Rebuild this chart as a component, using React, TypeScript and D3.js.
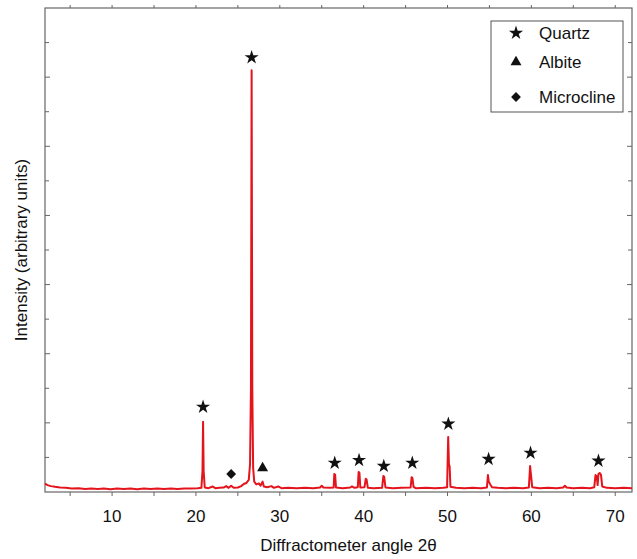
import * as d3 from "d3";
import React, { useRef, useEffect } from "react";

// diffraction pattern: [angle 2θ, intensity]
const spectrum: [number, number][] = [
  [2.0, 0.24], [2.3, 0.2], [2.7, 0.17], [3.2, 0.15], [3.8, 0.13], [4.5, 0.12], [5.2, 0.1], [6.0, 0.11],
  [6.8, 0.09], [7.5, 0.1], [8.3, 0.09], [9.0, 0.1], [9.8, 0.08], [10.6, 0.1], [11.4, 0.09], [12.2, 0.1],
  [13.0, 0.08], [13.8, 0.1], [14.6, 0.09], [15.4, 0.1], [16.2, 0.09], [17.0, 0.1], [17.8, 0.09], [18.6, 0.1],
  [19.4, 0.1], [20.2, 0.11], [20.65, 0.12], [20.78, 0.6], [20.85, 2.03], [20.92, 0.6], [21.05, 0.13],
  [21.5, 0.11], [22.0, 0.16], [22.3, 0.11], [22.8, 0.12], [23.3, 0.13], [23.6, 0.17], [23.9, 0.12],
  [24.2, 0.18], [24.5, 0.12], [25.0, 0.13], [25.4, 0.17], [25.7, 0.23], [26.0, 0.26], [26.3, 0.35],
  [26.45, 0.8], [26.56, 3.0], [26.64, 12.2], [26.72, 3.0], [26.82, 0.7], [26.95, 0.3], [27.2, 0.22],
  [27.5, 0.25], [27.7, 0.18], [27.95, 0.3], [28.1, 0.16], [28.5, 0.14], [29.0, 0.17], [29.3, 0.12],
  [29.8, 0.16], [30.2, 0.11], [31.0, 0.12], [32.0, 0.11], [33.0, 0.12], [34.0, 0.11], [34.8, 0.13],
  [35.0, 0.18], [35.2, 0.13], [36.0, 0.12], [36.42, 0.13], [36.5, 0.52], [36.6, 0.5], [36.7, 0.13],
  [37.5, 0.11], [38.4, 0.13], [38.6, 0.16], [38.9, 0.12], [39.3, 0.14], [39.4, 0.58], [39.5, 0.55],
  [39.6, 0.13], [40.1, 0.14], [40.25, 0.38], [40.35, 0.36], [40.5, 0.12], [41.2, 0.11], [42.2, 0.12],
  [42.35, 0.46], [42.45, 0.44], [42.6, 0.13], [43.5, 0.11], [44.5, 0.12], [45.6, 0.13], [45.72, 0.43],
  [45.82, 0.4], [45.95, 0.15], [46.2, 0.11], [47.5, 0.12], [48.5, 0.11], [49.5, 0.12], [49.95, 0.14],
  [50.08, 1.59], [50.17, 0.8], [50.25, 0.75], [50.35, 0.15], [51.0, 0.12], [52.0, 0.11], [53.0, 0.12],
  [54.0, 0.11], [54.7, 0.13], [54.82, 0.49], [54.92, 0.3], [55.1, 0.22], [55.3, 0.14], [56.0, 0.12],
  [57.0, 0.11], [58.0, 0.12], [59.0, 0.11], [59.7, 0.13], [59.85, 0.75], [59.95, 0.5], [60.1, 0.14],
  [61.0, 0.11], [62.0, 0.12], [63.0, 0.11], [63.8, 0.13], [64.0, 0.18], [64.2, 0.13], [65.0, 0.11],
  [66.0, 0.12], [67.0, 0.11], [67.5, 0.14], [67.65, 0.49], [67.8, 0.45], [67.9, 0.2], [68.0, 0.52],
  [68.15, 0.55], [68.3, 0.5], [68.45, 0.16], [69.0, 0.12], [70.0, 0.11], [71.0, 0.12], [72.0, 0.11],
];

// phase markers: [angle, height of marker]
const quartzMarks: [number, number][] = [
  [20.85, 2.46], [26.64, 12.57], [36.55, 0.84], [39.45, 0.92], [42.4, 0.75], [45.8, 0.84],
  [50.1, 1.97], [54.9, 0.95], [59.9, 1.13], [68.0, 0.9],
];
const albiteMarks: [number, number][] = [[27.95, 0.69]];
const microclineMarks: [number, number][] = [[24.2, 0.52]];

const legendNames = ["Quartz", "Albite", "Microcline"];

const xTicksMajor = [10, 20, 30, 40, 50, 60, 70];
const xTicksMinor = [5, 15, 25, 35, 45, 55, 65];
const yTicks = d3.range(1, 14);

const font = "'Liberation Sans', Arial, sans-serif";

const App = () => {
  const ref = useRef<SVGSVGElement>(null);
  const width = 637;
  const height = 559;

  useEffect(() => {
    const svg = d3.select(ref.current);
    svg.selectAll("*").remove();

    const left = 45, right = 632, top = 8, bottom = 492;

    const x = d3.scaleLinear().domain([2, 72]).range([left, right]);
    const y = d3.scaleLinear().domain([0, 14]).range([bottom, top]);

    // frame
    svg.append("rect")
      .attr("x", left).attr("y", top)
      .attr("width", right - left).attr("height", bottom - top)
      .attr("fill", "none").attr("stroke", "#666").attr("stroke-width", 1.2);

    // bottom + top ticks
    const tg = svg.append("g").attr("stroke", "#666").attr("stroke-width", 1);
    [...xTicksMajor, ...xTicksMinor].forEach((t) => {
      tg.append("line").attr("x1", x(t)).attr("x2", x(t)).attr("y1", bottom).attr("y2", bottom + 4);
      tg.append("line").attr("x1", x(t)).attr("x2", x(t)).attr("y1", top).attr("y2", top - 3);
    });
    yTicks.forEach((t, i) => {
      const len = i % 2 === 0 ? 4 : 5;
      tg.append("line").attr("x1", left).attr("x2", left + len).attr("y1", y(t)).attr("y2", y(t));
      tg.append("line").attr("x1", right).attr("x2", right - len).attr("y1", y(t)).attr("y2", y(t));
    });

    svg.append("g")
      .selectAll("text")
      .data(xTicksMajor)
      .enter()
      .append("text")
      .attr("x", (d) => x(d))
      .attr("y", 522)
      .attr("text-anchor", "middle")
      .attr("font-family", font)
      .attr("font-size", 17)
      .attr("fill", "#111")
      .text((d) => d);

    svg.append("text")
      .attr("x", (left + right) / 2 + 10)
      .attr("y", 551)
      .attr("text-anchor", "middle")
      .attr("font-family", font)
      .attr("font-size", 17)
      .attr("fill", "#111")
      .text("Diffractometer angle 2θ");

    svg.append("text")
      .attr("transform", `translate(27,${(top + bottom) / 2}) rotate(-90)`)
      .attr("text-anchor", "middle")
      .attr("font-family", font)
      .attr("font-size", 17)
      .attr("fill", "#111")
      .text("Intensity (arbitrary units)");

    // pattern
    const line = d3.line<[number, number]>()
      .x((d) => x(d[0]))
      .y((d) => y(d[1]));

    svg.append("path")
      .datum(spectrum)
      .attr("d", line)
      .attr("fill", "none")
      .attr("stroke", "#e4141c")
      .attr("stroke-width", 2)
      .attr("stroke-linejoin", "round");

    const star = d3.symbol().type(d3.symbolStar).size(62);
    const tri = d3.symbol().type(d3.symbolTriangle).size(52);
    const dia = d3.symbol().type(d3.symbolSquare).size(48);

    const marks = svg.append("g").attr("fill", "#111");
    quartzMarks.forEach((m) => {
      marks.append("path").attr("d", star()).attr("transform", `translate(${x(m[0])},${y(m[1])})`);
    });
    albiteMarks.forEach((m) => {
      marks.append("path").attr("d", tri()).attr("transform", `translate(${x(m[0])},${y(m[1])})`);
    });
    microclineMarks.forEach((m) => {
      marks.append("path").attr("d", dia()).attr("transform", `translate(${x(m[0])},${y(m[1])}) rotate(45)`);
    });

    // legend
    const lg = svg.append("g");
    lg.append("rect")
      .attr("x", 491).attr("y", 21).attr("width", 132).attr("height", 91)
      .attr("fill", "#fff").attr("stroke", "#555").attr("stroke-width", 1);
    const shapes = [star, tri, dia];
    const rowsY = [33, 62, 97];
    legendNames.forEach((name, i) => {
      lg.append("path")
        .attr("d", shapes[i]())
        .attr("fill", "#111")
        .attr("transform", `translate(516,${rowsY[i]})${i === 2 ? " rotate(45)" : ""}`);
      lg.append("text")
        .attr("x", 539).attr("y", rowsY[i] + 6)
        .attr("font-family", font).attr("font-size", 17).attr("fill", "#111")
        .text(name);
    });
  }, []);

  return (
    <svg
      ref={ref}
      width={width}
      height={height}
      style={{ position: "absolute", left: 0, top: 0, background: "#fff" }}
    />
  );
};

export default App;
